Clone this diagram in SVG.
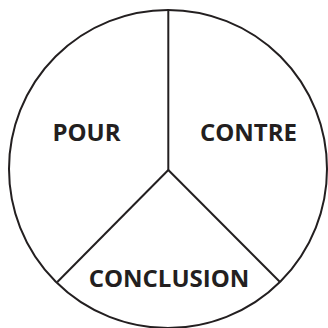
<svg xmlns="http://www.w3.org/2000/svg" width="328" height="328" viewBox="0 0 328 328">
<style>
.ln{fill:none;stroke:#231f20;stroke-width:2}
.lb{font-family:"Open Sans","Noto Sans",sans-serif;font-weight:bold;font-size:24px;fill:#231f20;text-anchor:middle}
</style>
<rect width="328" height="328" fill="#fff"/>
<g id="circle"><circle class="ln" cx="168" cy="169" r="159"/></g>
<g id="connectors">
<line class="ln" x1="168.3" y1="10" x2="168.3" y2="170"/>
<line class="ln" x1="168.3" y1="170" x2="57.3" y2="282"/>
<line class="ln" x1="168.3" y1="170" x2="280" y2="282"/>
</g>
<g id="pour"><text class="lb" x="86.5" y="141">POUR</text></g>
<g id="contre"><text class="lb" x="248.5" y="141">CONTRE</text></g>
<g id="conclusion"><text class="lb" x="169" y="287">CONCLUSION</text></g>
</svg>
